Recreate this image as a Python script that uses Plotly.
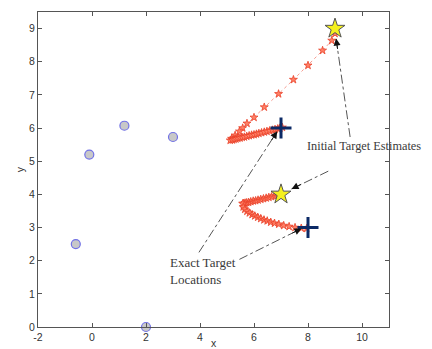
import plotly.graph_objects as go

# Sensor positions
sensor_x = [-0.6, -0.1, 1.2, 3.0, 2.0]
sensor_y = [2.5, 5.2, 6.07, 5.73, 0.0]

# Target 1 estimate trajectory
traj1_x = [9.0, 8.88, 8.54, 8.0, 7.46, 6.91, 6.38, 6.0, 5.74, 5.58, 5.46, 5.30, 5.17, 5.12,
           5.20, 5.26, 5.33, 5.40, 5.48, 5.56, 5.64, 5.73, 5.82, 5.91, 6.00, 6.09, 6.18,
           6.28, 6.38, 6.48, 6.58, 6.68, 6.78, 6.88, 6.96, 7.05]
traj1_y = [8.85, 8.64, 8.34, 7.89, 7.46, 7.03, 6.63, 6.32, 6.14, 6.00, 5.90, 5.78, 5.68, 5.63,
           5.64, 5.66, 5.67, 5.69, 5.70, 5.72, 5.73, 5.75, 5.77, 5.79, 5.80, 5.82, 5.84,
           5.86, 5.88, 5.90, 5.92, 5.94, 5.96, 5.98, 6.00, 6.02]

# Target 2 estimate trajectory
traj2_x = [6.95, 6.85, 6.75, 6.65, 6.55, 6.45, 6.35, 6.25, 6.15, 6.06, 5.97, 5.88, 5.80, 5.73,
           5.67, 5.62, 5.58, 5.60, 5.66, 5.74, 5.83, 5.93, 6.03, 6.14, 6.25, 6.37, 6.49,
           6.62, 6.76, 6.92, 7.10, 7.30, 7.52, 7.75, 7.95]
traj2_y = [3.99, 3.97, 3.95, 3.93, 3.91, 3.89, 3.87, 3.85, 3.83, 3.81, 3.80, 3.78, 3.76, 3.75,
           3.74, 3.73, 3.72, 3.62, 3.55, 3.49, 3.44, 3.39, 3.35, 3.31, 3.27, 3.23, 3.20,
           3.16, 3.13, 3.10, 3.06, 3.03, 3.00, 2.98, 2.97]

# Initial estimates and exact locations
init_x = [9.0, 7.0]
init_y = [9.0, 4.0]
exact_x = [7.0, 8.0]
exact_y = [6.0, 3.0]

x_ticks = [-2, 0, 2, 4, 6, 8, 10]
y_ticks = [0, 1, 2, 3, 4, 5, 6, 7, 8, 9]

fig = go.Figure()

for tx, ty in [(traj1_x, traj1_y), (traj2_x, traj2_y)]:
    fig.add_trace(go.Scatter(
        x=tx, y=ty, mode="lines+markers",
        line=dict(color="rgba(240,90,70,0.6)", width=1, dash="dot"),
        marker=dict(symbol="star", size=6, color="#ff8066",
                    line=dict(color="#ea4028", width=0.8)),
        showlegend=False))

fig.add_trace(go.Scatter(
    x=sensor_x, y=sensor_y, mode="markers", cliponaxis=False,
    marker=dict(symbol="circle", size=9, color="#c8c8c8",
                line=dict(color="#7272e6", width=1.2)),
    showlegend=False))

fig.add_trace(go.Scatter(
    x=exact_x, y=exact_y, mode="markers",
    marker=dict(symbol="cross-thin", size=15, color="#0c2a66",
                line=dict(color="#0c2a66", width=3)),
    showlegend=False))

fig.add_trace(go.Scatter(
    x=init_x, y=init_y, mode="markers",
    marker=dict(symbol="star", size=15, color="#f4f01e",
                line=dict(color="#555555", width=1)),
    showlegend=False))

# Dash-dot leader lines: (tail_x, tail_y, head_x, head_y, pixel offset ax, ay)
leaders = [
    (9.56, 5.73, 9.04, 8.70, 1.7, 11.9),
    (8.75, 4.70, 7.39, 4.16, 10.8, -5.3),
    (3.96, 2.25, 6.86, 5.90, -6.5, 10.1),
    (5.46, 2.04, 7.76, 2.97, -10.7, 5.3),
]
for x0, y0, x1, y1, ax, ay in leaders:
    fig.add_shape(type="line", x0=x0, y0=y0, x1=x1, y1=y1, xref="x", yref="y",
                  line=dict(color="#555555", width=1, dash="dashdot"))
    fig.add_annotation(x=x1, y=y1, ax=ax, ay=ay, text="", showarrow=True,
                       arrowhead=2, arrowsize=1.4, arrowwidth=1, arrowcolor="#111111")

fig.add_annotation(x=7.88, y=5.45, text="Initial Target Estimates", showarrow=False,
                   xanchor="left", yanchor="middle",
                   font=dict(family="Liberation Serif", size=12.3, color="#3a3a3a"))
fig.add_annotation(x=2.8, y=1.68, text="Exact Target<br>Locations", showarrow=False,
                   xanchor="left", yanchor="middle", align="left",
                   font=dict(family="Liberation Serif", size=13, color="#3a3a3a"))

axis_common = dict(showgrid=False, zeroline=False, showline=True, linecolor="#555555",
                   linewidth=1, mirror="ticks", ticks="inside", ticklen=4,
                   tickcolor="#555555", automargin=False,
                   tickfont=dict(family="Liberation Sans", size=10.5, color="#333333"))

fig.update_xaxes(range=[-2, 11], tickvals=x_ticks, ticktext=[str(v) for v in x_ticks],
                 title=dict(text="x", standoff=3,
                            font=dict(family="Liberation Sans", size=10.5, color="#333333")),
                 **axis_common)
fig.update_yaxes(range=[0, 9.5], tickvals=y_ticks, ticktext=[str(v) for v in y_ticks],
                 title=dict(text="y", standoff=2,
                            font=dict(family="Liberation Sans", size=10.5, color="#333333")),
                 **axis_common)

# The page body adds an 8px offset, so the figure is sized to fit the 432x349 window
fig.update_layout(width=424, height=341, plot_bgcolor="white", paper_bgcolor="white",
                  margin=dict(l=30, r=43, t=4, b=22))

fig.write_html("out.html")
